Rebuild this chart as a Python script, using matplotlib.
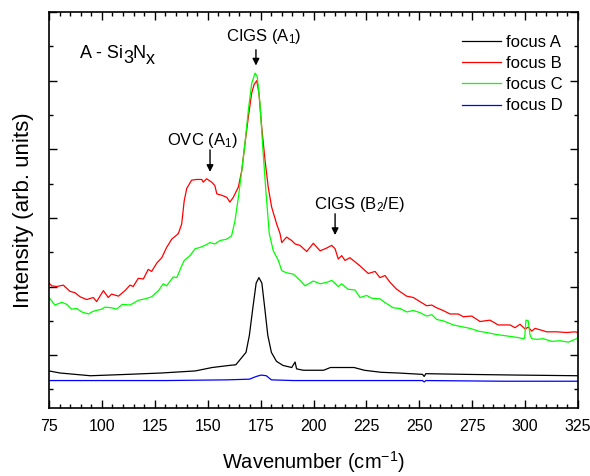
import matplotlib
matplotlib.use("Agg")
import matplotlib.pyplot as plt
from matplotlib.ticker import MultipleLocator, NullFormatter

plt.rcParams["font.family"] = ["Liberation Sans", "DejaVu Sans"]
plt.rcParams["mathtext.fontset"] = "custom"
plt.rcParams["mathtext.rm"] = "Liberation Sans"
plt.rcParams["mathtext.it"] = "Liberation Sans:italic"

# ---------- spectra (wavenumber in cm^-1, intensity in arb. units) ----------
focus_a_x = [75.0, 80.2, 94.6, 112.1, 128.1, 144.1, 152.1, 160.1, 163.3, 166.5,
             168.1, 169.7, 171.3, 172.9, 174.2, 175.6, 176.8, 178.4, 180.1, 182.5,
             185.6, 189.7, 191.3, 192.0, 195.2, 204.8, 208.0, 212.8, 219.2, 224.0,
             232.0, 240.0, 251.5, 252.3, 253.1, 271.9, 295.9, 325.0]
focus_a_y = [-0.23, -0.26, -0.30, -0.28, -0.26, -0.23, -0.18, -0.15, -0.14, -0.02,
             0.04, 0.29, 0.68, 1.05, 1.13, 1.05, 0.73, 0.29, 0.04, -0.09,
             -0.15, -0.18, -0.10, -0.20, -0.22, -0.22, -0.18, -0.18, -0.18, -0.22,
             -0.25, -0.26, -0.28, -0.31, -0.27, -0.28, -0.29, -0.30]

focus_b_x = [75.0, 76.3, 78.6, 81.8, 84.9, 87.3, 89.7, 92.8, 95.9, 97.5,
             100.7, 103.0, 104.6, 107.8, 110.9, 113.3, 114.8, 117.2, 119.6, 121.9,
             123.5, 125.9, 128.3, 130.6, 133.0, 136.1, 137.7, 138.9, 140.1, 142.4,
             144.8, 147.2, 147.9, 149.5, 151.9, 153.4, 154.3, 156.6, 159.0, 160.5,
             162.1, 164.5, 166.1, 167.6, 169.2, 170.8, 171.9, 173.2, 174.2, 175.5,
             177.1, 178.6, 180.2, 182.6, 184.2, 185.0, 187.3, 189.7, 191.3, 193.6,
             196.8, 199.9, 203.1, 206.2, 208.6, 210.2, 211.7, 213.3, 214.9, 217.2,
             222.0, 225.9, 229.1, 231.4, 233.8, 236.2, 239.3, 244.0, 247.2, 250.3,
             253.5, 255.9, 258.2, 261.3, 264.5, 268.4, 270.8, 274.8, 278.7, 283.4,
             287.3, 292.9, 295.2, 297.6, 300.0, 301.5, 303.1, 304.7, 307.0, 310.2,
             314.9, 319.7, 323.6, 325.0]
focus_b_y = [1.05, 1.01, 1.00, 1.02, 0.93, 0.91, 0.85, 0.81, 0.84, 0.78,
             0.94, 0.84, 0.89, 0.86, 0.94, 1.02, 1.00, 1.12, 1.11, 1.25,
             1.22, 1.34, 1.42, 1.57, 1.69, 1.77, 1.91, 2.25, 2.43, 2.55,
             2.56, 2.56, 2.52, 2.57, 2.52, 2.47, 2.35, 2.33, 2.30, 2.23,
             2.30, 2.45, 2.69, 3.08, 3.47, 3.82, 3.94, 4.00, 3.82, 3.33,
             2.84, 2.45, 2.16, 1.91, 1.77, 1.64, 1.72, 1.67, 1.62, 1.60,
             1.51, 1.63, 1.52, 1.56, 1.60, 1.55, 1.40, 1.45, 1.38, 1.42,
             1.30, 1.19, 1.22, 1.13, 1.16, 1.06, 0.96, 0.86, 0.84, 0.78,
             0.72, 0.73, 0.69, 0.65, 0.60, 0.60, 0.56, 0.57, 0.49, 0.51,
             0.44, 0.44, 0.40, 0.45, 0.38, 0.41, 0.35, 0.39, 0.37, 0.34,
             0.34, 0.33, 0.34, 0.33]

focus_c_x = [75.0, 77.8, 81.0, 83.4, 85.7, 88.1, 90.5, 93.6, 95.9, 99.9,
             101.5, 104.6, 107.0, 109.6, 113.3, 117.2, 120.4, 123.5, 126.7, 129.0,
             130.6, 133.7, 135.4, 137.4, 138.9, 141.6, 144.0, 146.4, 148.7, 151.1,
             153.4, 155.8, 159.0, 161.3, 162.9, 164.5, 166.1, 167.6, 169.2, 170.8,
             172.4, 173.4, 174.7, 176.0, 177.6, 179.1, 181.0, 183.4, 185.0, 187.3,
             190.5, 193.6, 196.0, 199.9, 203.1, 206.2, 208.6, 211.7, 213.3, 216.4,
             219.6, 222.0, 225.1, 227.5, 231.4, 234.6, 237.7, 240.9, 244.0, 247.2,
             250.3, 253.5, 255.9, 258.2, 261.3, 266.1, 270.8, 274.0, 277.9, 281.8,
             286.6, 291.3, 296.0, 299.2, 299.8, 300.4, 301.5, 302.3, 303.1, 305.5,
             308.6, 312.6, 316.5, 320.4, 324.4, 325.0]
focus_c_y = [0.84, 0.73, 0.77, 0.74, 0.67, 0.68, 0.63, 0.60, 0.64, 0.67,
             0.70, 0.69, 0.67, 0.74, 0.73, 0.80, 0.82, 0.85, 0.94, 1.04,
             1.01, 1.14, 1.13, 1.28, 1.38, 1.45, 1.55, 1.57, 1.60, 1.64,
             1.62, 1.67, 1.69, 1.74, 1.96, 2.30, 2.69, 3.08, 3.57, 3.96,
             4.11, 4.06, 3.67, 3.04, 2.35, 1.77, 1.52, 1.38, 1.23, 1.20,
             1.18, 1.09, 1.01, 1.08, 1.04, 1.06, 1.09, 1.00, 1.04, 0.96,
             0.95, 0.84, 0.87, 0.83, 0.82, 0.75, 0.69, 0.68, 0.63, 0.65,
             0.62, 0.57, 0.59, 0.52, 0.50, 0.44, 0.41, 0.39, 0.35, 0.33,
             0.30, 0.28, 0.26, 0.24, 0.25, 0.51, 0.50, 0.30, 0.24, 0.23,
             0.24, 0.20, 0.21, 0.19, 0.24, 0.25]

focus_d_x = [75.0, 100.0, 130.0, 159.0, 169.7, 173.0, 175.3, 177.7, 180.1, 190.5,
             220.0, 251.5, 252.3, 253.1, 290.0, 325.0]
focus_d_y = [-0.37, -0.37, -0.37, -0.36, -0.35, -0.31, -0.29, -0.30, -0.36, -0.37,
             -0.37, -0.37, -0.39, -0.37, -0.38, -0.38]

series_labels = ["focus A", "focus B", "focus C", "focus D"]
series_colors = ["#000000", "#ff0000", "#00ff00", "#0000ff"]

# peak assignments: (label, text x, text y, arrow x, arrow top, arrow tip)
peak_labels = [
    (r"CIGS (A$\mathregular{_1}$)", 176.6, 4.64, 172.8, 4.45, 4.22),
    (r"OVC (A$\mathregular{_1}$)", 147.3, 3.13, 151.1, 2.99, 2.67),
    (r"CIGS (B$\mathregular{_2}$/E)", 222.0, 2.19, 210.2, 2.06, 1.75),
]

# sample label pieces: (text, baseline drop in px)
sample_parts = [("A - Si", 0), ("3", 5), ("N", 0), ("x", 6)]

fig = plt.figure(figsize=(5.9, 4.76), dpi=100)
ax = fig.add_axes([49 / 590, 68 / 476, 529 / 590, 396 / 476])

for xs, ys, lab, col in zip([focus_a_x, focus_b_x, focus_c_x, focus_d_x],
                            [focus_a_y, focus_b_y, focus_c_y, focus_d_y],
                            series_labels, series_colors):
    ax.plot(xs, ys, color=col, lw=0.9, label=lab)

ax.set_xlim(75, 325)
ax.set_ylim(-0.77, 5.0)
ax.xaxis.set_major_locator(MultipleLocator(25))
ax.xaxis.set_minor_locator(MultipleLocator(5))
ax.yaxis.set_major_locator(MultipleLocator(1))
ax.yaxis.set_minor_locator(MultipleLocator(0.5))
ax.yaxis.set_major_formatter(NullFormatter())
ax.tick_params(which="both", direction="in", top=True, right=True, width=1.0)
ax.tick_params(which="major", length=6, labelsize=11.5)
ax.tick_params(axis="x", which="major", pad=8)
ax.tick_params(which="minor", length=3)
for sp in ax.spines.values():
    sp.set_linewidth(1.2)

ax.set_xlabel(r"Wavenumber (cm$\mathregular{^{-1}}$)", fontsize=14.5, labelpad=11)
ax.set_ylabel("Intensity (arb. units)", fontsize=16, labelpad=7)

for txt, tx, ty, axx, ay0, ay1 in peak_labels:
    ax.text(tx, ty, txt, fontsize=12, ha="center", va="center")
    ax.annotate("", xy=(axx, ay1), xytext=(axx, ay0),
                arrowprops=dict(arrowstyle="-|>", color="black", lw=1.0,
                                mutation_scale=10, shrinkA=0, shrinkB=0))

ax.legend(loc="upper left", bbox_to_anchor=(462 / 590, 1 - 35 / 476),
          bbox_transform=fig.transFigure, frameon=False, fontsize=12,
          handlelength=2.34, handletextpad=0.3, labelspacing=0.37,
          borderpad=0, borderaxespad=0)

# sample name with full-size, lowered subscripts
fig.canvas.draw()
renderer = fig.canvas.get_renderer()
x_px, base_px = 80.0, 476 - 58.0
for part, drop in sample_parts:
    t = fig.text(x_px / 590, (base_px - drop) / 476, part, fontsize=13,
                 ha="left", va="baseline")
    x_px = t.get_window_extent(renderer).x1

fig.savefig("out.png", dpi=100)
